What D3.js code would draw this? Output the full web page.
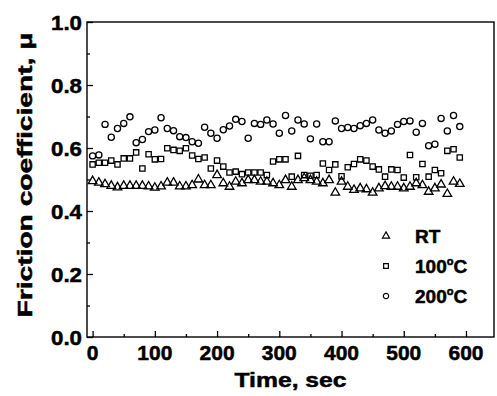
<!DOCTYPE html>
<html>
<head>
<meta charset="utf-8">
<script src="https://cdn.jsdelivr.net/npm/d3@7"></script>
<style>
  body { margin: 0; background: #fff; }
  text { font-family: "Liberation Sans", Arial, sans-serif; font-weight: bold; fill: #000; stroke: #000; stroke-width: 0.5; }
</style>
</head>
<body>
<svg id="chart" width="497" height="396"></svg>
<script>
// sampling times (sec)
const times = [0, 10, 20, 30, 40, 50, 60, 70, 80, 90,
  100, 110, 120, 130, 140, 150, 160, 170, 180, 190,
  200, 210, 220, 230, 240, 250, 260, 270, 280, 290,
  300, 310, 320, 330, 340, 350, 360, 370, 380, 390,
  400, 410, 420, 430, 440, 450, 460, 470, 480, 490,
  500, 510, 520, 530, 540, 550, 560, 570, 580, 590];

// friction coefficient at room temperature
const rtValues = [0.495, 0.490, 0.485, 0.480, 0.475, 0.480, 0.480, 0.480, 0.480, 0.478,
  0.474, 0.478, 0.490, 0.490, 0.478, 0.478, 0.482, 0.500, 0.482, 0.482,
  0.514, 0.488, 0.477, 0.493, 0.488, 0.498, 0.498, 0.493, 0.493, 0.488,
  0.482, 0.498, 0.477, 0.498, 0.504, 0.498, 0.493, 0.488, 0.498, 0.458,
  0.493, 0.477, 0.467, 0.472, 0.469, 0.458, 0.472, 0.479, 0.477, 0.477,
  0.472, 0.477, 0.488, 0.482, 0.461, 0.472, 0.484, 0.454, 0.493, 0.486];

// 100 C
const c100Values = [0.548, 0.553, 0.553, 0.560, 0.548, 0.567, 0.567, 0.586, 0.535, 0.580,
  0.564, 0.565, 0.599, 0.594, 0.591, 0.599, 0.576, 0.565, 0.570, 0.535,
  0.560, 0.541, 0.522, 0.525, 0.517, 0.522, 0.522, 0.522, 0.514, 0.557,
  0.564, 0.564, 0.509, 0.575, 0.514, 0.512, 0.514, 0.551, 0.530, 0.548,
  0.510, 0.539, 0.549, 0.564, 0.560, 0.541, 0.532, 0.509, 0.532, 0.530,
  0.506, 0.578, 0.507, 0.549, 0.509, 0.530, 0.520, 0.591, 0.596, 0.570];

// 200 C
const c200Values = [0.575, 0.578, 0.675, 0.634, 0.662, 0.678, 0.699, 0.617, 0.627, 0.652,
  0.657, 0.696, 0.662, 0.655, 0.636, 0.633, 0.620, 0.615, 0.666, 0.647,
  0.631, 0.658, 0.670, 0.691, 0.684, 0.631, 0.678, 0.675, 0.689, 0.676,
  0.647, 0.703, 0.654, 0.689, 0.676, 0.629, 0.676, 0.620, 0.620, 0.686,
  0.662, 0.665, 0.662, 0.671, 0.678, 0.689, 0.657, 0.647, 0.654, 0.675,
  0.684, 0.686, 0.650, 0.678, 0.607, 0.612, 0.694, 0.654, 0.703, 0.668];

const xTicks = [0, 100, 200, 300, 400, 500, 600];
const yTicks = [0.0, 0.2, 0.4, 0.6, 0.8, 1.0];

const svg = d3.select("#chart");
const plotLeft = 87, plotRight = 494, plotTop = 22, plotBottom = 337;

const x = d3.scaleLinear().domain([-9, 645]).range([plotLeft, plotRight]);
const y = d3.scaleLinear().domain([0, 1]).range([plotBottom, plotTop]);

// frame
svg.append("rect")
  .attr("x", plotLeft).attr("y", plotTop)
  .attr("width", plotRight - plotLeft).attr("height", plotBottom - plotTop)
  .attr("fill", "none").attr("stroke", "#000").attr("stroke-width", 1.4);

// x axis (ticks inward)
const xAxis = svg.append("g").attr("transform", "translate(0," + plotBottom + ")");
xAxis.call(d3.axisBottom(x).tickValues(d3.range(0, 650, 50)).tickSize(-6).tickFormat(""))
  .call(g => g.select(".domain").remove());
xAxis.selectAll(".tick").filter(d => d % 100 !== 0).select("line").attr("y2", -3);
xAxis.selectAll(".tick line").attr("stroke-width", 1.3);
svg.append("g").selectAll("text").data(xTicks).enter().append("text")
  .attr("x", d => x(d)).attr("y", 360)
  .attr("text-anchor", "middle").attr("font-size", 21)
  .text(d => d);

// y axis (ticks inward)
const yAxis = svg.append("g").attr("transform", "translate(" + plotLeft + ",0)");
yAxis.call(d3.axisLeft(y).tickValues(d3.range(0, 1.01, 0.1)).tickSize(-6).tickFormat(""))
  .call(g => g.select(".domain").remove());
yAxis.selectAll(".tick").filter((d, i) => i % 2 === 1).select("line").attr("x2", 3);
yAxis.selectAll(".tick line").attr("stroke-width", 1.3);
svg.append("g").selectAll("text").data(yTicks).enter().append("text")
  .attr("x", 82).attr("y", d => y(d) + 7.5)
  .attr("text-anchor", "end").attr("font-size", 21)
  .attr("textLength", 31).attr("lengthAdjust", "spacingAndGlyphs")
  .text(d => d.toFixed(1));

// axis titles
svg.append("text")
  .attr("x", (plotLeft + plotRight) / 2).attr("y", 387)
  .attr("text-anchor", "middle").attr("font-size", 21)
  .attr("textLength", 112).attr("lengthAdjust", "spacingAndGlyphs")
  .text("Time, sec");
svg.append("text")
  .attr("transform", "translate(32," + 175 + ") rotate(-90)")
  .attr("text-anchor", "middle").attr("font-size", 21)
  .attr("textLength", 285).attr("lengthAdjust", "spacingAndGlyphs")
  .text("Friction coefficient, \u03bc");

// markers
const series = [
  { name: "RT", values: rtValues, shape: d3.symbolTriangle, size: 32 },
  { name: "100", values: c100Values, shape: d3.symbolSquare, size: 28 },
  { name: "200", values: c200Values, shape: d3.symbolCircle, size: 30 }
];

series.forEach(s => {
  const sym = d3.symbol().type(s.shape).size(s.size);
  svg.append("g").selectAll("path").data(s.values).enter().append("path")
    .attr("d", sym)
    .attr("transform", (d, i) => "translate(" + x(times[i]) + "," + y(d) + ")")
    .attr("fill", "none").attr("stroke", "#000").attr("stroke-width", 1.3);
});

// legend
const legend = svg.append("g");
const legendY = [236, 266, 296];
series.forEach((s, i) => {
  legend.append("path")
    .attr("d", d3.symbol().type(s.shape).size(22)())
    .attr("transform", "translate(386," + legendY[i] + ")")
    .attr("fill", "none").attr("stroke", "#000").attr("stroke-width", 1.2);
  const t = legend.append("text")
    .attr("x", 415).attr("y", legendY[i] + 7).attr("font-size", 19);
  if (s.name === "RT") {
    t.text("RT");
  } else {
    t.append("tspan").text(s.name);
    t.append("tspan").attr("font-size", 11).attr("dy", -8).text("o");
    t.append("tspan").attr("dy", 8).text("C");
  }
});
</script>
</body>
</html>
